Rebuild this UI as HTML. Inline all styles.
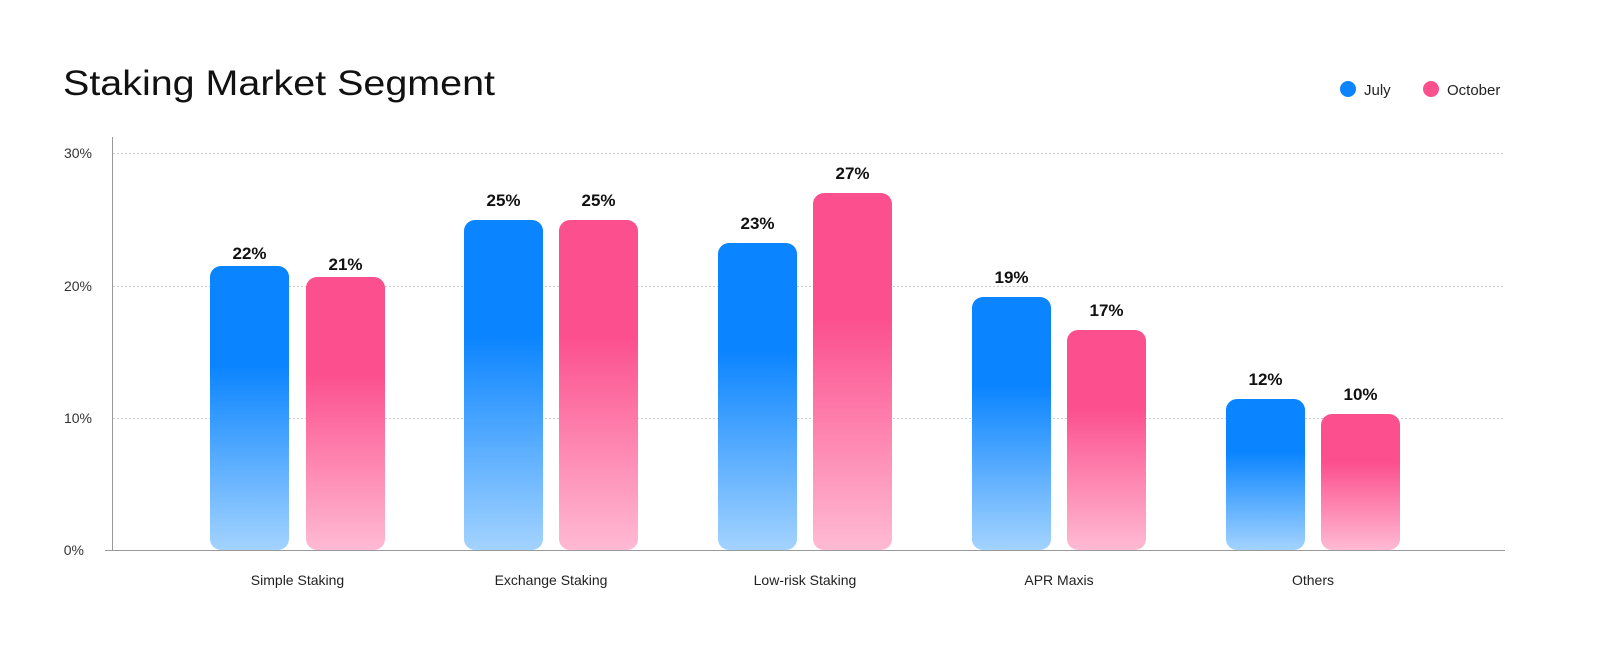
<!DOCTYPE html>
<html><head><meta charset="utf-8"><style>
html,body{margin:0;padding:0;background:#fff;width:1600px;height:672px;overflow:hidden;font-family:"Liberation Sans",sans-serif;}
</style></head><body>
<svg width="1600" height="672" xmlns="http://www.w3.org/2000/svg" font-family="Liberation Sans, sans-serif">
<defs>
<linearGradient id="b" x1="0" y1="0" x2="0" y2="1"><stop offset="0" stop-color="#0a84ff"/><stop offset="0.35" stop-color="#0a84ff"/><stop offset="1" stop-color="#a3d3ff"/></linearGradient>
<linearGradient id="p" x1="0" y1="0" x2="0" y2="1"><stop offset="0" stop-color="#fc4f8d"/><stop offset="0.35" stop-color="#fc4f8d"/><stop offset="1" stop-color="#ffbad3"/></linearGradient>
</defs>
<text x="63" y="95" font-size="35" fill="#111" textLength="432" lengthAdjust="spacingAndGlyphs">Staking Market Segment</text>
<circle cx="1348" cy="89" r="8" fill="#0a84ff"/><text x="1364" y="95" font-size="15" fill="#222">July</text>
<circle cx="1431" cy="89" r="8" fill="#fc4f8d"/><text x="1447" y="95" font-size="15" fill="#222">October</text>
<g stroke="#ccc" stroke-dasharray="2,2" stroke-width="1">
<line x1="113" y1="153.5" x2="1505" y2="153.5"/><line x1="113" y1="286.5" x2="1505" y2="286.5"/><line x1="113" y1="418.5" x2="1505" y2="418.5"/></g>
<line x1="112.5" y1="137" x2="112.5" y2="550" stroke="#999"/>
<line x1="105" y1="550.5" x2="1505" y2="550.5" stroke="#999"/>
<g font-size="14" fill="#333" text-anchor="end">
<text x="92" y="158">30%</text><text x="92" y="291">20%</text><text x="92" y="423">10%</text><text x="84" y="555">0%</text></g>
<g>
<rect x="210" y="266" width="79" height="284" rx="11" fill="url(#b)"/>
<rect x="306" y="277" width="79" height="273" rx="11" fill="url(#p)"/>
<rect x="464" y="220" width="79" height="330" rx="11" fill="url(#b)"/>
<rect x="559" y="220" width="79" height="330" rx="11" fill="url(#p)"/>
<rect x="718" y="243" width="79" height="307" rx="11" fill="url(#b)"/>
<rect x="813" y="193" width="79" height="357" rx="11" fill="url(#p)"/>
<rect x="972" y="297" width="79" height="253" rx="11" fill="url(#b)"/>
<rect x="1067" y="330" width="79" height="220" rx="11" fill="url(#p)"/>
<rect x="1226" y="399" width="79" height="151" rx="11" fill="url(#b)"/>
<rect x="1321" y="414" width="79" height="136" rx="11" fill="url(#p)"/>
</g>
<g font-size="17" font-weight="bold" fill="#111" text-anchor="middle">
<text x="249.5" y="259">22%</text><text x="345.5" y="270">21%</text>
<text x="503.5" y="206">25%</text><text x="598.5" y="206">25%</text>
<text x="757.5" y="229">23%</text><text x="852.5" y="179">27%</text>
<text x="1011.5" y="283">19%</text><text x="1106.5" y="316">17%</text>
<text x="1265.5" y="385">12%</text><text x="1360.5" y="400">10%</text>
</g>
<g font-size="14" fill="#222" text-anchor="middle">
<text x="297.5" y="585">Simple Staking</text><text x="551" y="585">Exchange Staking</text>
<text x="805" y="585">Low-risk Staking</text><text x="1059" y="585">APR Maxis</text><text x="1313" y="585">Others</text>
</g>
</svg>
</body></html>
